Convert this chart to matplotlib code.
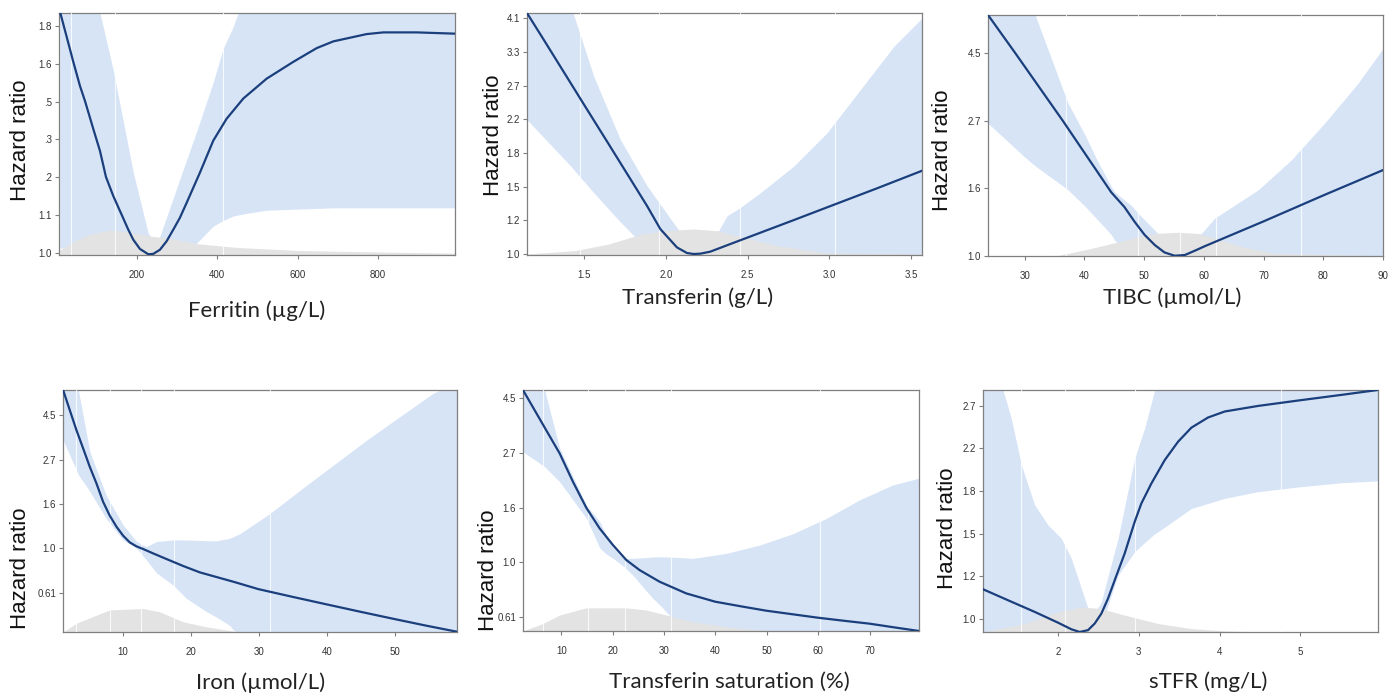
import numpy as np
import matplotlib.pyplot as plt
from matplotlib.ticker import FixedLocator, NullLocator

# ---- Ferritin ----
fer_x = [8.3, 24.9, 41.5, 58.1, 70.5, 91.3, 107.9, 122.8, 141, 161.8, 178.4, 190.9, 207.5, 228.2, 240.7,
         257.3, 273.9, 290.5, 307, 323.7, 356.9, 390.1, 423.3, 464.8, 522.9, 589.3, 647.4, 688.9, 771.9,
         813.4, 896.4, 991.8]
fer_hr = [1.892, 1.771, 1.657, 1.555, 1.495, 1.388, 1.310, 1.223, 1.163, 1.107, 1.064, 1.036, 1.011, 0.997,
          0.998, 1.009, 1.032, 1.064, 1.098, 1.142, 1.237, 1.346, 1.426, 1.504, 1.585, 1.657, 1.718, 1.749,
          1.783, 1.791, 1.791, 1.785]
fer_ci_x = [8, 95, 141, 191, 228, 245, 257, 324, 349, 390, 415, 440, 452, 470, 523, 689, 992]
fer_hi = [2.0, 2.0, 1.621, 1.237, 1.054, 1.03, 1.045, 1.281, 1.38, 1.571, 1.718, 1.82, 1.885, 2.0, 2.0, 2.0, 2.0]
fer_lo = [1.013, 1.02, 1.01, 1.0, 0.99, 0.99, 0.99, 1.01, 1.027, 1.074, 1.09, 1.103, 1.106, 1.11, 1.12, 1.127, 1.127]
fer_dx = [8, 40, 80, 133, 180, 240, 280, 350, 450, 600, 800, 992]
fer_dens = [1.008, 1.03, 1.05, 1.063, 1.057, 1.045, 1.04, 1.025, 1.015, 1.007, 1.003, 1.0]
fer_knots = [37, 145, 415]

# ---- Transferin ----
trf_x = [1.149, 1.251, 1.5, 1.649, 1.782, 1.884, 1.965, 2.006, 2.067, 2.128, 2.169, 2.21, 2.271, 2.373,
         2.5, 2.782, 3.0, 3.292, 3.567]
trf_hr = [4.18, 3.57, 2.42, 1.92, 1.56, 1.33, 1.16, 1.11, 1.04, 1.006, 1.0, 1.002, 1.014, 1.053,
          1.103, 1.223, 1.326, 1.477, 1.639]
trf_ci_x = [1.149, 1.414, 1.557, 1.72, 1.884, 1.986, 2.08, 2.2, 2.322, 2.373, 2.455, 2.578, 2.782, 2.986,
            3.19, 3.394, 3.567]
trf_hi = [5.0, 4.4, 2.875, 1.974, 1.498, 1.305, 1.148, 1.127, 1.148, 1.254, 1.318, 1.439, 1.685, 2.054,
          2.653, 3.427, 4.055]
trf_lo = [2.219, 1.69, 1.44, 1.21, 1.03, 0.99, 0.98, 0.98, 0.98, 0.98, 0.98, 0.98, 0.98, 0.98, 0.98, 0.98, 0.98]
trf_dx = [1.149, 1.441, 1.645, 1.849, 1.992, 2.169, 2.312, 2.476, 2.68, 2.884, 2.986, 3.567]
trf_dens = [1.0, 1.02, 1.06, 1.125, 1.148, 1.16, 1.148, 1.103, 1.051, 1.02, 1.006, 1.0]
trf_knots = [1.476, 1.96, 2.455, 3.037]

# ---- TIBC ----
tib_x = [23.86, 28.4, 36.5, 44.5, 46.7, 48.4, 50.1, 51.8, 53.4, 55.1, 56.8, 58.5, 60.1, 70, 80, 90]
tib_hr = [5.96, 4.5, 2.7, 1.6, 1.435, 1.287, 1.166, 1.082, 1.025, 1.0, 1.005, 1.038, 1.072, 1.29, 1.564, 1.887]
tib_ci_x = [23.86, 30, 31.7, 35.6, 37.25, 40, 42.3, 44.5, 45.1, 47.9, 49, 52.3, 54.5, 59.6, 61.8, 69.1,
            74.6, 80.2, 85.8, 90]
tib_hi = [7.0, 7.0, 6.0, 3.77, 3.1, 2.47, 2.0, 1.67, 1.6, 1.45, 1.37, 1.18, 1.15, 1.18, 1.32, 1.63,
          2.03, 2.67, 3.59, 4.65]
tib_lo = [2.67, 2.08, 1.95, 1.72, 1.63, 1.45, 1.30, 1.17, 1.12, 1.0, 0.97, 0.97, 0.97, 0.97, 0.97, 0.97,
          0.97, 0.97, 0.97, 0.97]
tib_dx = [23.86, 35.6, 41.2, 46.7, 49.5, 52.3, 55.7, 59, 61.8, 66.3, 71.9, 90]
tib_dens = [1.0, 1.002, 1.056, 1.12, 1.16, 1.18, 1.19, 1.18, 1.14, 1.07, 1.017, 1.0]
tib_knots = [37, 49, 56, 62, 76.3]

# ---- Iron ----
irn_x = [1.146, 2.13, 3.11, 4.10, 5.08, 6.07, 7.05, 8.03, 9.02, 10.0, 10.98, 11.97, 12.95, 14.43, 16.39,
         18.85, 21.31, 26.23, 29.92, 35.09, 40.0, 44.92, 49.99, 54.76, 59.19]
irn_hr = [5.97, 4.76, 3.80, 3.09, 2.51, 2.08, 1.69, 1.446, 1.277, 1.154, 1.070, 1.023, 0.993, 0.945, 0.887,
          0.820, 0.763, 0.687, 0.632, 0.578, 0.532, 0.490, 0.451, 0.418, 0.391]
irn_ci_x = [1.15, 3.4, 5.1, 7.5, 10, 12, 13.4, 14.9, 17.4, 19.3, 22.3, 23.8, 25.7, 26.2, 27.2, 31.6,
            36.1, 41, 45.9, 50.8, 55.7, 59.2]
irn_hi = [6.5, 5.96, 2.97, 1.82, 1.30, 1.08, 1.02, 1.08, 1.10, 1.10, 1.09, 1.09, 1.12, 1.14, 1.18, 1.48,
          1.93, 2.56, 3.39, 4.42, 5.75, 6.5]
irn_lo = [3.39, 2.3, 1.9, 1.4, 1.10, 1.0, 0.88, 0.76, 0.66, 0.57, 0.49, 0.46, 0.42, 0.40, 0.38, 0.37,
          0.37, 0.37, 0.37, 0.37, 0.37, 0.37]
irn_dx = [1.15, 3.1, 8.0, 12.95, 15.4, 18.8, 22.3, 26.2, 28.7, 59.2]
irn_dens = [0.39, 0.43, 0.50, 0.508, 0.489, 0.438, 0.413, 0.394, 0.39, 0.39]
irn_knots = [3.1, 8.0, 12.7, 17.5, 31.6]

# ---- Transferin saturation ----
sat_x = [2.54, 6.11, 9.68, 12.27, 14.86, 17.46, 20.05, 22.65, 25.24, 29.13, 34.32, 39.96, 45.34, 49.88,
         55.07, 59.94, 64.8, 69.99, 74.53, 79.59]
sat_hr = [4.84, 3.62, 2.71, 2.09, 1.649, 1.365, 1.172, 1.022, 0.932, 0.838, 0.753, 0.698, 0.667, 0.643,
          0.622, 0.603, 0.587, 0.571, 0.553, 0.534]
sat_ci_x = [2.54, 6.76, 9.68, 14.86, 17.5, 18.75, 20, 22, 23.9, 27.8, 29.1, 31, 33, 35.6, 42.1, 48.6,
            55.1, 61.6, 68, 74.5, 79.6]
sat_hi = [5.5, 4.84, 2.84, 1.69, 1.45, 1.284, 1.15, 1.037, 1.037, 1.05, 1.053, 1.05, 1.045, 1.037,
          1.086, 1.172, 1.30, 1.496, 1.77, 2.03, 2.16]
sat_lo = [2.75, 2.4, 2.09, 1.50, 1.14, 1.08, 1.04, 0.97, 0.89, 0.72, 0.68, 0.618, 0.563, 0.53, 0.52,
          0.52, 0.52, 0.52, 0.52, 0.52, 0.52]
sat_dx = [2.54, 6.43, 9.68, 14.86, 22.6, 26.5, 30.4, 35.6, 42.1, 48.6, 55.1, 79.6]
sat_dens = [0.534, 0.572, 0.618, 0.66, 0.66, 0.647, 0.618, 0.581, 0.555, 0.538, 0.534, 0.534]
sat_knots = [6.4, 15.2, 22.3, 31.4, 60.3]

# ---- sTFR ----
stf_x = [1.071, 1.381, 1.711, 2.0, 2.165, 2.268, 2.371, 2.454, 2.537, 2.619, 2.702, 2.825, 2.949, 3.032,
         3.156, 3.321, 3.486, 3.651, 3.857, 4.064, 4.476, 5.0, 5.508, 5.962]
stf_hr = [1.148, 1.090, 1.032, 0.981, 0.951, 0.939, 0.947, 0.977, 1.024, 1.099, 1.198, 1.358, 1.576, 1.719,
          1.888, 2.107, 2.297, 2.454, 2.574, 2.648, 2.718, 2.792, 2.863, 2.93]
stf_ci_x = [1.071, 1.319, 1.422, 1.546, 1.711, 1.876, 2.041, 2.165, 2.289, 2.371, 2.454, 2.537, 2.578,
            2.743, 2.949, 3.073, 3.197, 3.238, 3.651, 4.063, 4.476, 5.0, 5.508, 5.962]
stf_hi = [3.2, 2.93, 2.56, 2.06, 1.706, 1.553, 1.458, 1.327, 1.152, 1.048, 1.03, 1.081, 1.15, 1.458,
          2.125, 2.45, 2.93, 3.2, 3.2, 3.2, 3.2, 3.2, 3.2, 3.2]
stf_lo = [0.9, 0.9, 0.9, 0.9, 0.9, 0.9, 0.9, 0.9, 0.9, 0.93, 0.96, 0.99, 1.016, 1.226, 1.369, 1.43,
          1.49, 1.504, 1.678, 1.76, 1.816, 1.859, 1.894, 1.911]
stf_dx = [1.071, 1.587, 2.0, 2.289, 2.537, 2.826, 3.238, 3.651, 4.063, 4.476, 5.962]
stf_dens = [0.939, 0.977, 1.032, 1.056, 1.048, 1.016, 0.977, 0.954, 0.944, 0.939, 0.939]
stf_knots = [1.546, 2.083, 2.949, 4.765]

# ticks: y ticks are exp(step*k)
panels = [
    dict(x=fer_x, y=fer_hr, cx=fer_ci_x, hi=fer_hi, lo=fer_lo, dx=fer_dx, d=fer_dens, knots=fer_knots,
         xlim=(6, 992), ylim=(0.995, 1.885), xt=[200, 400, 600, 800], xtl=['200', '400', '600', '800'],
         step=0.1, ks=range(0, 7), ytl=['1.0', '1.1', '.2', '.3', '.5', '1.6', '1.8'],
         xlabel='Ferritin (µg/L)', pos=[0.0425, 0.6336, 0.2851, 0.3477],
         xl=(0.5, -0.231), yl=(-0.098, 0.475)),
    dict(x=trf_x, y=trf_hr, cx=trf_ci_x, hi=trf_hi, lo=trf_lo, dx=trf_dx, d=trf_dens, knots=trf_knots,
         xlim=(1.149, 3.567), ylim=(0.994, 4.18), xt=[1.5, 2.0, 2.5, 3.0, 3.5],
         xtl=['1.5', '2.0', '2.5', '3.0', '3.5'],
         step=0.2, ks=range(0, 8), ytl=['1.0', '1.2', '1.5', '1.8', '2.2', '2.7', '3.3', '4.1'],
         xlabel='Transferin (g/L)', pos=[0.3794, 0.6336, 0.2844, 0.3477],
         xl=(0.433, -0.178), yl=(-0.086, 0.496)),
    dict(x=tib_x, y=tib_hr, cx=tib_ci_x, hi=tib_hi, lo=tib_lo, dx=tib_dx, d=tib_dens, knots=tib_knots,
         xlim=(23.86, 90), ylim=(0.998, 5.96), xt=[30, 40, 50, 60, 70, 80, 90],
         xtl=['30', '40', '50', '60', '70', '80', '90'],
         step=0.5, ks=range(0, 4), ytl=['1.0', '1.6', '2.7', '4.5'],
         xlabel='TIBC (µmol/L)', pos=[0.7113, 0.6322, 0.2844, 0.3463],
         xl=(0.466, -0.174), yl=(-0.114, 0.44)),
    dict(x=irn_x, y=irn_hr, cx=irn_ci_x, hi=irn_hi, lo=irn_lo, dx=irn_dx, d=irn_dens, knots=irn_knots,
         xlim=(1.15, 59.2), ylim=(0.39, 5.96), xt=[10, 20, 30, 40, 50], xtl=['10', '20', '30', '40', '50'],
         step=0.5, ks=range(-1, 4), ytl=['0.61', '1.0', '1.6', '2.7', '4.5'],
         xlabel='Iron (µmol/L)', pos=[0.0454, 0.092, 0.2837, 0.3477],
         xl=(0.5, -0.21), yl=(-0.109, 0.264)),
    dict(x=sat_x, y=sat_hr, cx=sat_ci_x, hi=sat_hi, lo=sat_lo, dx=sat_dx, d=sat_dens, knots=sat_knots,
         xlim=(2.54, 79.6), ylim=(0.534, 4.84), xt=[10, 20, 30, 40, 50, 60, 70],
         xtl=['10', '20', '30', '40', '50', '60', '70'],
         step=0.5, ks=range(-1, 4), ytl=['0.61', '1.0', '1.6', '2.7', '4.5'],
         xlabel='Transferin saturation (%)', pos=[0.3765, 0.0934, 0.2851, 0.3463],
         xl=(0.52, -0.21), yl=(-0.088, 0.253)),
    dict(x=stf_x, y=stf_hr, cx=stf_ci_x, hi=stf_hi, lo=stf_lo, dx=stf_dx, d=stf_dens, knots=stf_knots,
         xlim=(1.071, 5.962), ylim=(0.939, 2.93), xt=[2, 3, 4, 5], xtl=['2', '3', '4', '5'],
         step=0.2, ks=range(0, 6), ytl=['1.0', '1.2', '1.5', '1.8', '2.2', '2.7'],
         xlabel='sTFR (mg/L)', pos=[0.7077, 0.092, 0.2844, 0.3477],
         xl=(0.57, -0.207), yl=(-0.091, 0.43)),
]

band_col = '#d6e4f6'
dens_col = '#e3e3e3'
line_col = '#1b3f7c'
spine_col = '#7f7f7f'

fig = plt.figure(figsize=(13.89, 6.96), dpi=100)

for p in panels:
    ax = fig.add_axes(p['pos'])
    ax.set_yscale('log')
    ax.fill_between(p['cx'], p['lo'], p['hi'], color=band_col, lw=0, zorder=1)
    ax.fill_between(p['dx'], p['ylim'][0] * 0.9, p['d'], color=dens_col, lw=0, zorder=2)
    for k in p['knots']:
        ax.axvline(k, color='white', lw=0.8, alpha=0.8, zorder=3)
    ax.plot(p['x'], p['y'], color=line_col, lw=1.6, zorder=4, solid_joinstyle='round')
    ax.set_xlim(*p['xlim'])
    ax.set_ylim(*p['ylim'])
    ax.xaxis.set_major_locator(FixedLocator(p['xt']))
    ax.set_xticklabels(p['xtl'])
    yt = [np.exp(p['step'] * k) for k in p['ks']]
    ax.yaxis.set_major_locator(FixedLocator(yt))
    ax.yaxis.set_minor_locator(NullLocator())
    ax.set_yticklabels(p['ytl'])
    for s in ax.spines.values():
        s.set_color(spine_col)
        s.set_linewidth(0.9)
    ax.tick_params(axis='both', length=3, width=0.8, color=spine_col, labelsize=7,
                   labelcolor='#333333', pad=2)
    ax.tick_params(axis='x', pad=8)
    for lab in ax.get_xticklabels() + ax.get_yticklabels():
        lab.set_family('Liberation Sans')
    ax.set_xlabel(p['xlabel'], fontsize=16, family='Lato', color='#222222')
    ax.xaxis.set_label_coords(*p['xl'])
    ax.xaxis.label.set_va('center')
    ax.set_ylabel('Hazard ratio', fontsize=16, family='Liberation Sans', color='#111111')
    ax.yaxis.set_label_coords(*p['yl'])
    ax.yaxis.label.set_va('center')

fig.savefig('out.png', dpi=100, facecolor='white')
